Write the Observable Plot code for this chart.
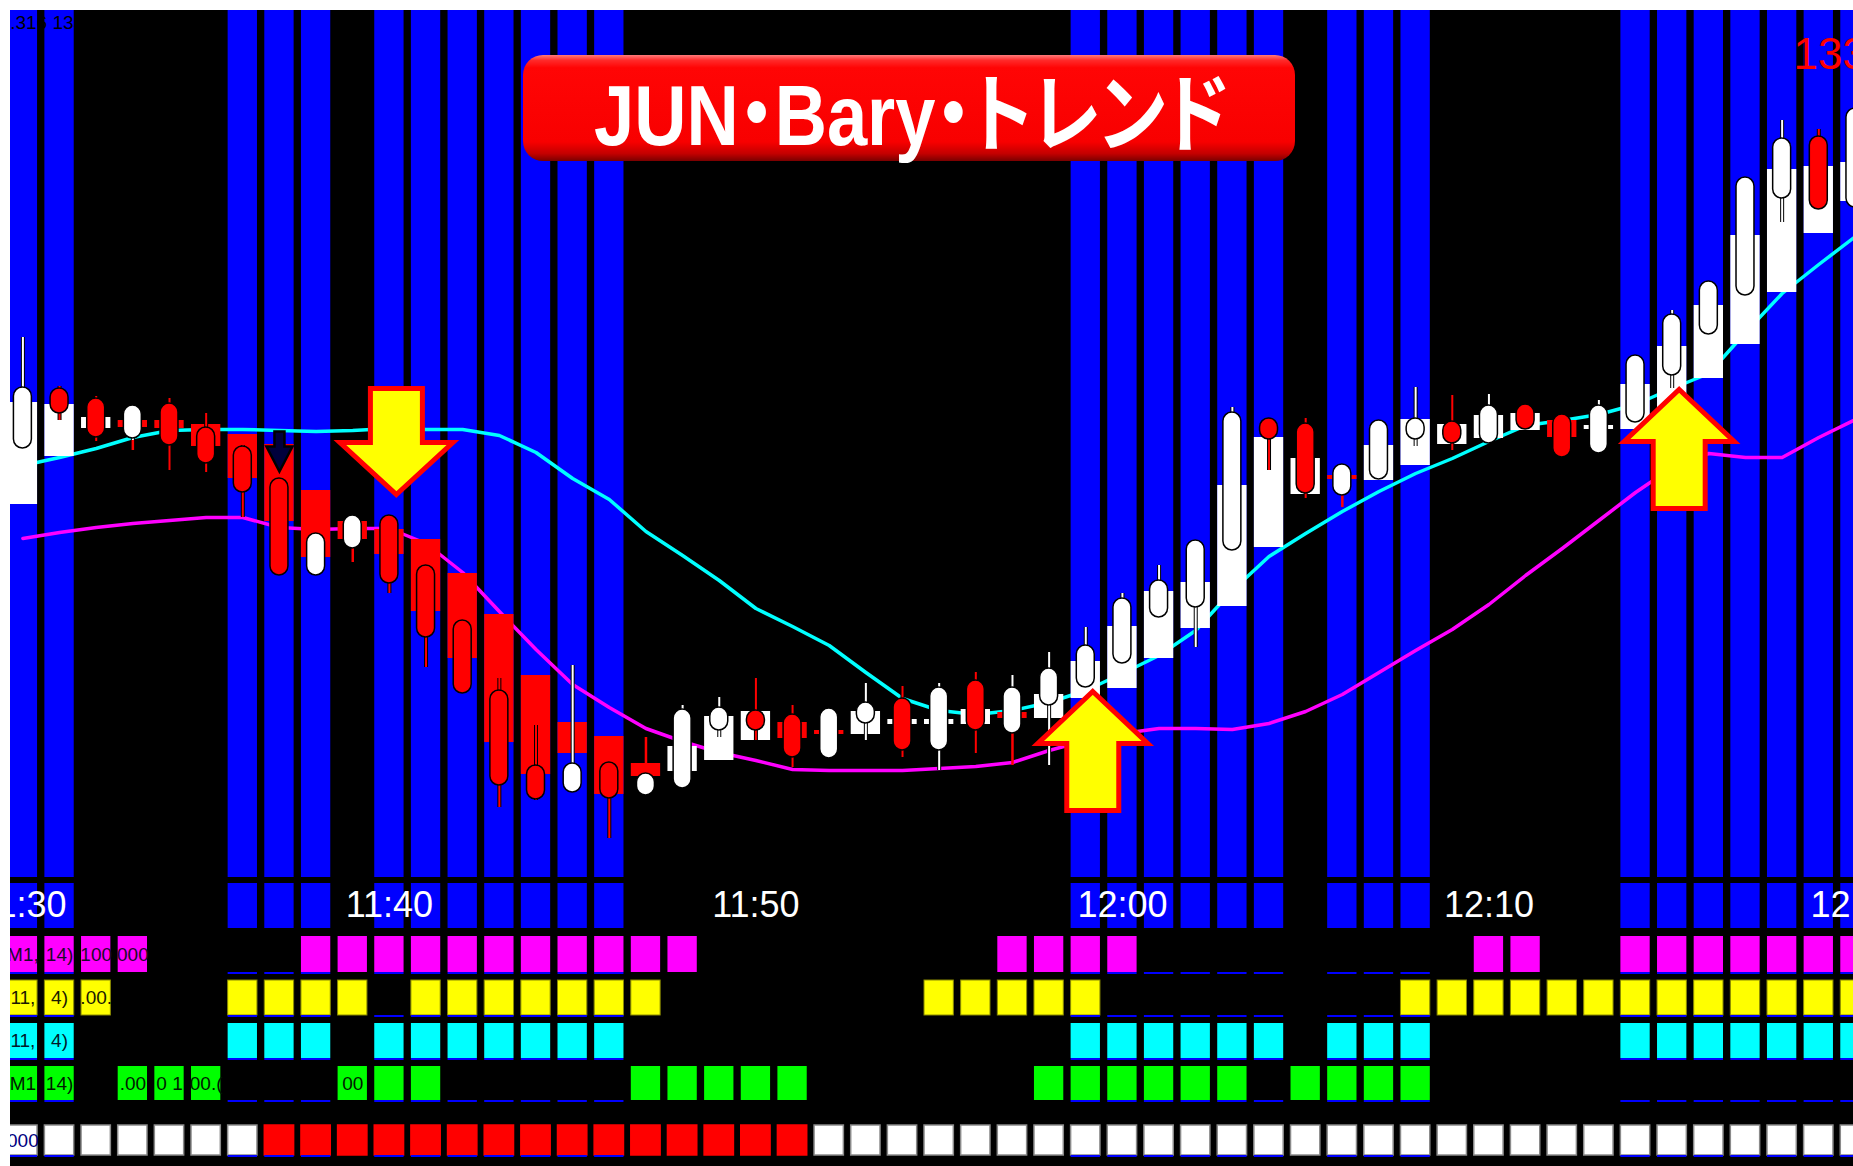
<!DOCTYPE html>
<html>
<head>
<meta charset="utf-8">
<script src="https://cdn.jsdelivr.net/npm/d3@7"></script>
<script src="https://cdn.jsdelivr.net/npm/@observablehq/plot@0.6"></script>
<style>
html, body { margin: 0; padding: 0; background: #ffffff; }
#wrap { position: absolute; left: 10px; top: 10px; width: 1843px; height: 1156px; overflow: hidden; background: #000000; }
#main, #lower, #overlay { position: absolute; left: 0; }
#main { top: 0; }
#lower { top: 867px; }
#overlay { top: 0; }
#wrap svg { display: block; }
</style>
</head>
<body>
<div id="wrap"><div id="main"></div><div id="lower"></div><div id="overlay"></div></div>
<script>
// ---------------- DATA (one entry per 1-minute bar, 11:30 .. 12:20) ----------------
const timeLabels = ["11:30", "11:40", "11:50", "12:00", "12:10", "12:20"];
const timeCols = [0, 10, 20, 30, 40, 50];

const open = [133.552,133.612,133.602,133.562,133.597,133.573,133.554,133.522,133.425,133.452,
  133.485,133.435,133.380,133.310,133.235,133.208,133.238,133.205,133.212,133.270,
  133.290,133.286,133.242,133.277,133.302,133.250,133.320,133.267,133.295,133.313,
  133.337,133.383,133.393,133.450,133.582,133.577,133.505,133.521,133.561,133.579,
  133.557,133.596,133.586,133.547,133.578,133.625,133.666,133.705,133.802,133.864,133.793];
const high = [133.663,133.614,133.604,133.595,133.602,133.587,133.555,133.522,133.467,133.485,
  133.485,133.435,133.380,133.322,133.275,133.335,133.238,133.227,133.295,133.303,
  133.322,133.295,133.292,133.317,133.314,133.317,133.328,133.325,133.348,133.373,
  133.407,133.435,133.460,133.593,133.582,133.582,133.536,133.580,133.613,133.605,
  133.606,133.596,133.586,133.600,133.645,133.690,133.719,133.823,133.880,133.871,133.892];
const low = [133.552,133.580,133.559,133.560,133.530,133.528,133.483,133.425,133.425,133.452,
  133.407,133.333,133.307,133.193,133.200,133.208,133.162,133.205,133.212,133.263,
  133.260,133.233,133.242,133.260,133.243,133.230,133.247,133.267,133.235,133.313,
  133.337,133.383,133.353,133.450,133.530,133.502,133.505,133.521,133.554,133.550,
  133.557,133.571,133.543,133.547,133.578,133.612,133.666,133.705,133.778,133.791,133.767];
const close = [133.613,133.587,133.563,133.595,133.555,133.537,133.508,133.425,133.467,133.485,
  133.417,133.363,133.307,133.215,133.201,133.237,133.202,133.227,133.291,133.293,
  133.270,133.243,133.292,133.298,133.250,133.313,133.270,133.313,133.332,133.355,
  133.402,133.420,133.460,133.588,133.561,133.507,133.536,133.580,133.582,133.557,
  133.595,133.571,133.543,133.595,133.645,133.686,133.719,133.823,133.862,133.791,133.892];

// Heikin-Ashi blocks drawn behind the candles
const haOpen = [133.497,133.545,133.573,133.579,133.579,133.575,133.565,133.555,133.509,133.478,
  133.470,133.460,133.426,133.385,133.324,133.277,133.263,133.236,133.230,133.241,
  133.261,133.277,133.269,133.267,133.277,133.277,133.277,133.287,133.283,133.303,
  133.313,133.343,133.373,133.395,133.454,133.507,133.524,133.521,133.536,133.557,
  133.563,133.571,133.579,133.572,133.572,133.593,133.623,133.657,133.709,133.768,133.800];
const haClose = [133.597,133.595,133.582,133.574,133.573,133.555,133.523,133.480,133.444,133.462,
  133.447,133.390,133.343,133.259,133.227,133.248,133.207,133.225,133.253,133.283,
  133.288,133.263,133.267,133.288,133.280,133.280,133.290,133.283,133.305,133.338,
  133.373,133.408,133.417,133.514,133.562,133.541,133.522,133.554,133.580,133.575,
  133.584,133.586,133.564,133.574,133.615,133.653,133.694,133.764,133.830,133.833,133.837];
const haWickLow = {3: 133.550, 9: 133.438, 27: 133.235, 36: 133.493};
const haWickHigh = {17: 133.263};

// moving averages
const maFast = [133.535,133.543,133.552,133.563,133.570,133.571,133.571,133.570,133.569,133.570,
  133.572,133.571,133.571,133.565,133.548,133.522,133.501,133.469,133.445,133.420,
  133.392,133.374,133.355,133.328,133.302,133.290,133.286,133.290,133.298,133.310,
  133.327,133.345,133.370,133.410,133.444,133.467,133.489,133.509,133.527,133.542,
  133.559,133.575,133.580,133.586,133.596,133.612,133.627,133.668,133.707,133.736,133.764];
const maSlow = [133.462,133.468,133.473,133.477,133.480,133.483,133.483,133.473,133.471,133.472,
  133.472,133.457,133.428,133.389,133.351,133.316,133.293,133.272,133.259,133.248,
  133.240,133.231,133.230,133.230,133.230,133.232,133.234,133.238,133.250,133.260,
  133.267,133.272,133.272,133.271,133.277,133.289,133.306,133.328,133.350,133.371,
  133.396,133.425,133.452,133.480,133.508,133.533,133.547,133.543,133.543,133.563,133.581];

// trend background (blue columns)
const blueCols = [0,1,6,7,8,10,11,12,13,14,15,16,29,30,31,32,33,34,36,37,38,44,45,46,47,48,49,50];

// signal arrows
const arrowCols = [10, 29, 45];
const arrowTips = [133.503, 133.312, 133.614];
const arrowDirs = ["down", "up", "up"];
const smallArrowCols = [7];
const smallArrowTips = [133.528];

// indicator rows
const magentaCols = [0,1,2,3,8,9,10,11,12,13,14,15,16,17,18,27,28,29,30,40,41,44,45,46,47,48,49,50];
const yellowCols = [0,1,2,6,7,8,9,11,12,13,14,15,16,17,25,26,27,28,29,38,39,40,41,42,43,44,45,46,47,48,49,50];
const cyanCols = [0,1,6,7,8,10,11,12,13,14,15,16,29,30,31,32,33,34,36,37,38,44,45,46,47,48,49,50];
const greenCols = [0,1,3,4,5,9,10,11,17,18,19,20,21,28,29,30,31,32,33,35,36,37,38];
const redSignalCols = [7,8,9,10,11,12,13,14,15,16,17,18,19,20,21];

const magentaTextCols = [0,1,2,3];   const magentaText = ["M1,", "14)", "100", "000"];
const yellowTextCols = [0,1,2];      const yellowText = ["11,", "4)", ".00."];
const cyanTextCols = [0,1];          const cyanText = ["11,", "4)"];
const greenTextCols = [0,1,3,4,5,9]; const greenText = ["M1", "14)", ".00", "0 1", "00.(", "00"];
const signalTextCols = [0];          const signalText = ["000"];

const titleText = "JUN・Bary・トレンド";
const ohlcText = "133.316 133.321";
const priceTag = "133.485";

// ---------------- BUILD ----------------
const N = open.length;
const allCols = d3.range(N);
const bars = allCols.map(i => ({
  i, o: open[i], h: high[i], l: low[i], c: close[i],
  ho: haOpen[i], hc: haClose[i], hh: haWickHigh[i], hl: haWickLow[i],
  fast: maFast[i], slow: maSlow[i]
}));
const arrows = arrowCols.map((c, k) => ({col: c, tip: arrowTips[k], dir: arrowDirs[k]}));
const smallArrows = smallArrowCols.map((c, k) => ({col: c, tip: smallArrowTips[k]}));

const W = 1843;
const xDomain = [-0.3383, 49.947];
const yLo = 133.123, yHi = 133.990;
const candleColor = d => d.c >= d.o ? "#ffffff" : "#ff0000";
const haColor = d => d.hc >= d.ho ? "#ffffff" : "#ff0000";

function arrowShape(dir, len, headLen, headHalf, shaftHalf, tipInset) {
  const s = dir === "up" ? 1 : -1;
  return {
    draw(ctx) {
      const t = s * tipInset, b = s * headLen, e = s * len;
      ctx.moveTo(0, t);
      ctx.lineTo(headHalf, b);
      ctx.lineTo(shaftHalf, b);
      ctx.lineTo(shaftHalf, e);
      ctx.lineTo(-shaftHalf, e);
      ctx.lineTo(-shaftHalf, b);
      ctx.lineTo(-headHalf, b);
      ctx.closePath();
    }
  };
}
const bigDown = arrowShape("down", 109, 55, 56.5, 26, 3);
const bigUp = arrowShape("up", 122, 55, 55, 26, 3);
const smallDown = arrowShape("down", 41, 26, 13, 5, 1);

const mainPlot = Plot.plot({
  width: W, height: 867, margin: 0,
  x: {domain: xDomain, axis: null},
  y: {domain: [yLo, yHi], axis: null},
  color: {type: "identity"},
  style: {background: "transparent"},
  marks: [
    Plot.rect(blueCols, {x1: d => d - 0.4, x2: d => d + 0.4, y1: yLo, y2: yHi, fill: "#0000ff"}),
    Plot.line(bars, {x: "i", y: "slow", stroke: "#ff00ff", strokeWidth: 3.5}),
    Plot.line(bars, {x: "i", y: "fast", stroke: "#00ffff", strokeWidth: 3.5}),
    Plot.ruleX(bars.filter(d => d.hh != null || d.hl != null), {
      x: "i",
      y1: d => d.hl ?? Math.min(d.ho, d.hc),
      y2: d => d.hh ?? Math.max(d.ho, d.hc),
      stroke: haColor, strokeWidth: 2.5
    }),
    Plot.rect(bars, {x1: d => d.i - 0.4, x2: d => d.i + 0.4, y1: "ho", y2: "hc", fill: haColor, insetTop: -1, insetBottom: -1}),
    Plot.ruleX(bars, {x: "i", y1: "l", y2: "h", stroke: "#000000", strokeWidth: 4}),
    Plot.ruleX(bars, {x: "i", y1: "l", y2: "h", stroke: candleColor, strokeWidth: 2}),
    Plot.rect(bars, {x1: d => d.i - 0.245, x2: d => d.i + 0.245, y1: "o", y2: "c", fill: candleColor, stroke: "#000000", strokeWidth: 1.5, rx: 9}),
    Plot.dot(smallArrows, {x: "col", y: "tip", symbol: smallDown, r: 8, fill: "#00003c", stroke: "#000000", strokeWidth: 2.5, strokeLinejoin: "miter"}),
    Plot.dot(arrows.filter(d => d.dir === "down"), {x: "col", y: "tip", symbol: bigDown, r: 20, dx: 7, fill: "#ffff00", stroke: "#ff0000", strokeWidth: 5, strokeLinejoin: "miter"}),
    Plot.dot(arrows.filter(d => d.dir === "up"), {x: "col", y: "tip", symbol: bigUp, r: 20, dx: 7, fill: "#ffff00", stroke: "#ff0000", strokeWidth: 5, strokeLinejoin: "miter"}),
    Plot.text([ohlcText], {text: d => d, frameAnchor: "top-left", dx: -32, dy: 18, lineAnchor: "bottom", textAnchor: "start", fill: "#000000", fontSize: 19, fontFamily: "Liberation Sans"}),
    Plot.text([priceTag], {text: d => d, frameAnchor: "top-right", dx: -60, dy: 58, lineAnchor: "bottom", textAnchor: "start", fill: "#ff0000", fontSize: 44, fontFamily: "Liberation Sans"})
  ]
});
document.getElementById("main").append(mainPlot);

// lower panel: time axis row + indicator rows (positions in page pixels)
const rowBox = {mag: [936, 972], yel: [980, 1015], cyan: [1023, 1058], green: [1066, 1100], sig: [1125, 1155]};
const axisBox = [883, 928];
const mid = k => (rowBox[k][0] + rowBox[k][1]) / 2;
const squares = (cols, k, opts) => Plot.rect(cols, {x1: d => d - 0.4, x2: d => d + 0.4, y1: rowBox[k][0], y2: rowBox[k][1], ...opts});
const underline = k => Plot.rect(blueCols, {x1: d => d - 0.4, x2: d => d + 0.4, y1: rowBox[k][1], y2: rowBox[k][1] + 2, fill: "#0000ff"});
const frag = (cols, texts, k, fill) => Plot.text(cols, {x: d => d, y: mid(k), text: (d, i) => texts[i], fill, fontSize: 19, fontFamily: "Liberation Sans Narrow, Liberation Sans", lineAnchor: "middle"});

const lowerPlot = Plot.plot({
  width: W, height: 289, margin: 0,
  x: {domain: xDomain, axis: null},
  y: {domain: [1166, 877], axis: null},
  color: {type: "identity"},
  style: {background: "transparent"},
  marks: [
    Plot.rect(blueCols, {x1: d => d - 0.4, x2: d => d + 0.4, y1: axisBox[0], y2: axisBox[1], fill: "#0000ff"}),
    Plot.text(timeCols, {x: d => d, y: 905, text: (d, i) => timeLabels[i], fill: "#ffffff", fontSize: 36, fontFamily: "Liberation Sans", lineAnchor: "middle"}),
    squares(magentaCols, "mag", {fill: "#ff00ff"}),
    squares(yellowCols, "yel", {fill: "#ffff00", stroke: "#8a8a00", strokeWidth: 1}),
    squares(cyanCols, "cyan", {fill: "#00ffff"}),
    squares(greenCols, "green", {fill: "#00ff00"}),
    squares(allCols, "sig", {
      fill: d => redSignalCols.includes(d) ? "#ff0000" : "#ffffff",
      stroke: d => redSignalCols.includes(d) ? "#ff0000" : "#8a8a8a", strokeWidth: 1.5
    }),
    underline("mag"), underline("yel"), underline("cyan"), underline("green"), underline("sig"),
    frag(magentaTextCols, magentaText, "mag", "#1a0a2a"),
    frag(yellowTextCols, yellowText, "yel", "#1a1a00"),
    frag(cyanTextCols, cyanText, "cyan", "#001a2a"),
    frag(greenTextCols, greenText, "green", "#001a00"),
    frag(signalTextCols, signalText, "sig", "#000080")
  ]
});
document.getElementById("lower").append(lowerPlot);

// title badge overlay
const ov = d3.create("svg").attr("width", W).attr("height", 180);
const grad = ov.append("defs").append("linearGradient").attr("id", "tg").attr("x1", 0).attr("y1", 0).attr("x2", 0).attr("y2", 1);
[[0, "#ff7a7a"], [0.05, "#ff2a2a"], [0.12, "#ff0505"], [0.82, "#f80000"], [0.93, "#c40000"], [1, "#7a0000"]]
  .forEach(([o, c]) => grad.append("stop").attr("offset", o).attr("stop-color", c));
ov.append("rect").attr("x", 513).attr("y", 45).attr("width", 772).attr("height", 106).attr("rx", 20).attr("fill", "url(#tg)");
ov.append("text").attr("x", 584).attr("y", 135).attr("fill", "#ffffff")
  .attr("font-family", "'Liberation Sans', 'Noto Sans CJK JP', sans-serif").attr("font-weight", 700)
  .attr("font-size", 86).attr("textLength", 635).attr("lengthAdjust", "spacingAndGlyphs")
  .style("font-feature-settings", "'palt'").text(titleText);
document.getElementById("overlay").append(ov.node());
</script>
</body>
</html>
